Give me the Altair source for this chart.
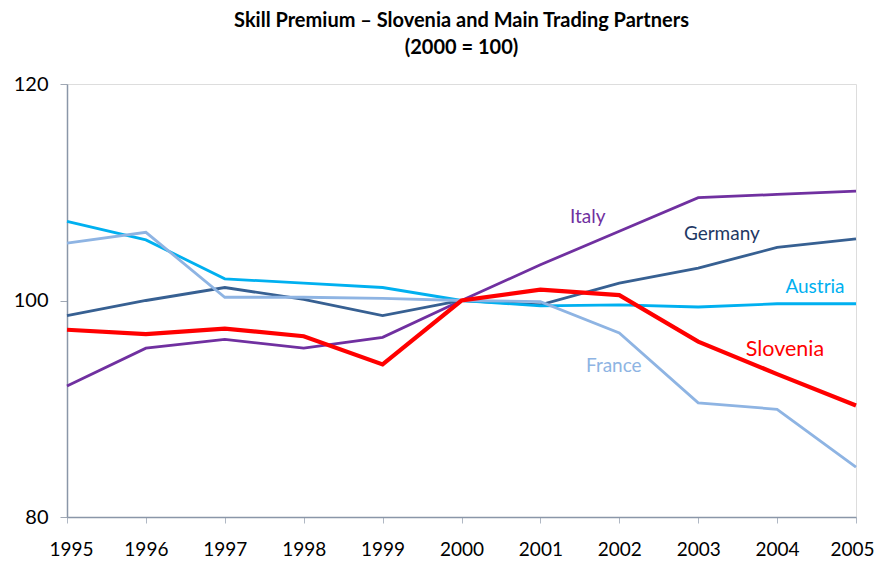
import altair as alt
import pandas as pd

years = list(range(1995, 2006))
slovenia = [97.3, 96.9, 97.4, 96.7, 94.1, 100.0, 101.0, 100.5, 96.2, 93.2, 90.3]
italy = [92.1, 95.6, 96.4, 95.6, 96.6, 100.0, 103.3, 106.4, 109.5, 109.8, 110.1]
germany = [98.6, 100.0, 101.2, 100.1, 98.6, 100.0, 99.6, 101.6, 103.0, 104.9, 105.7]
austria = [107.3, 105.6, 102.0, 101.6, 101.2, 100.0, 99.5, 99.6, 99.4, 99.7, 99.7]
france = [105.3, 106.3, 100.3, 100.3, 100.2, 100.0, 99.9, 97.0, 90.55, 89.95, 84.6]

series_names = ["Italy", "Germany", "Austria", "France", "Slovenia"]
series_values = [italy, germany, austria, france, slovenia]
series_colors = ["#7030A0", "#376092", "#00B0F0", "#8EB4E3", "#FF0000"]
label_colors = ["#7030A0", "#1F3864", "#00B0F0", "#8EB4E3", "#FF0000"]
series_widths = [2.8, 2.8, 2.8, 2.8, 4.2]

label_year = [2001.6, 2003.3, 2004.48, 2001.93, 2004.1]
label_value = [107.7, 106.1, 101.25, 93.95, 95.4]
label_size = [19, 19, 19, 19, 21.5]

font = "Lato"

rows = []
for name, vals in zip(series_names, series_values):
    for y, v in zip(years, vals):
        rows.append({"year": y, "value": v, "series": name})
df = pd.DataFrame(rows)

xs = alt.Scale(domain=[1995, 2005], nice=False, zero=False)
ys = alt.Scale(domain=[80, 120], nice=False, zero=False)

layers = []
for name, col, w in zip(series_names, series_colors, series_widths):
    layers.append(
        alt.Chart(df[df.series == name]).mark_line(color=col, strokeWidth=w, strokeJoin="miter").encode(
            x=alt.X("year:Q", scale=xs,
                    axis=alt.Axis(title=None, values=years, format="d", labelFontSize=19,
                                  labelFont=font, labelColor="#000000", domainColor="#8A96A8",
                                  tickColor="#B0B8C4", tickSize=6, labelPadding=17,
                                  grid=False, domainWidth=1.5, labelFlush=True,
                                  labelFlushOffset=18, labelOverlap=False)),
            y=alt.Y("value:Q", scale=ys,
                    axis=alt.Axis(title=None, values=[80, 100, 120], labelFontSize=20,
                                  labelFont=font, labelColor="#000000", domainColor="#8A96A8",
                                  tickColor="#A0A8B4", tickSize=7, labelPadding=12,
                                  grid=False, domainWidth=1.5, labelFlush=False)),
        )
    )

for name, col, s, ly, lv in zip(series_names, label_colors, label_size, label_year, label_value):
    layers.append(
        alt.Chart(pd.DataFrame({"year": [ly], "value": [lv], "t": [name]})).mark_text(
            color=col, fontSize=s, font=font, align="center", baseline="middle"
        ).encode(x=alt.X("year:Q", scale=xs), y=alt.Y("value:Q", scale=ys), text="t:N")
    )

chart = alt.layer(*layers).properties(
    width=789, height=433,
    title=alt.TitleParams(
        text=["Skill Premium \u2013 Slovenia and Main Trading Partners", "(2000 = 100)"],
        font=font, fontSize=20, fontWeight="bold", color="#000000",
        anchor="middle", lineHeight=27, offset=16,
    ),
    autosize=alt.AutoSizeParams(type="none"),
    padding={"left": 59, "top": 76, "right": 20, "bottom": 43},
).configure_view(stroke="#7FA3D6", strokeWidth=1.2).configure(background="white")

chart.save("out.html", embed_options={"renderer": "svg", "actions": False})
